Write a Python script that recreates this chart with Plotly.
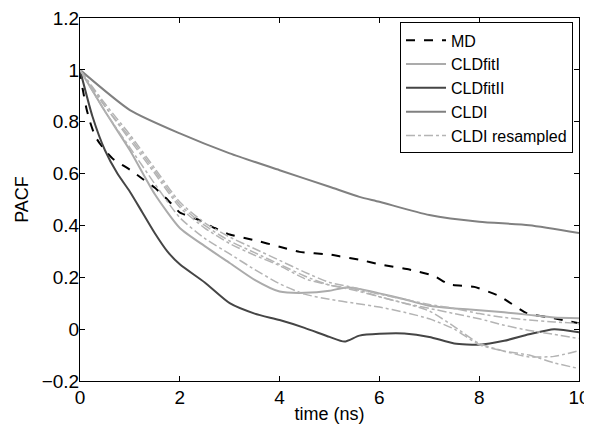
import plotly.graph_objects as go

# ---- data ----
t_md = [0, 0.05, 0.13, 0.2, 0.3, 0.4, 0.5, 0.67, 1.0, 1.25, 1.5, 1.75, 2.0, 2.4, 2.7, 3.0, 3.5, 4.0, 4.4, 5.0, 5.2, 5.6, 6.0, 6.6, 7.1, 7.4, 7.9, 8.4, 8.95, 9.5, 10.0]
v_md = [1.0, 0.93, 0.85, 0.80, 0.745, 0.715, 0.69, 0.655, 0.615, 0.58, 0.545, 0.50, 0.45, 0.42, 0.39, 0.365, 0.343, 0.318, 0.298, 0.288, 0.281, 0.268, 0.25, 0.23, 0.205, 0.172, 0.163, 0.128, 0.062, 0.042, 0.023]

t_fit1 = [0, 0.5, 1.0, 1.5, 2.0, 2.5, 3.0, 3.5, 4.0, 4.5, 5.0, 5.3, 5.6, 6.0, 6.5, 7.0, 7.5, 8.0, 8.5, 9.0, 9.5, 10.0]
v_fit1 = [1.0, 0.84, 0.69, 0.52, 0.39, 0.32, 0.255, 0.19, 0.145, 0.14, 0.148, 0.16, 0.155, 0.138, 0.115, 0.09, 0.08, 0.073, 0.065, 0.055, 0.045, 0.042]

t_fit2 = [0, 0.25, 0.5, 0.75, 1.0, 1.25, 1.5, 1.75, 2.0, 2.5, 3.0, 3.5, 4.0, 4.5, 5.0, 5.3, 5.6, 6.0, 6.5, 7.0, 7.5, 8.0, 8.5, 9.0, 9.5, 10.0]
v_fit2 = [1.0, 0.82, 0.69, 0.60, 0.53, 0.45, 0.37, 0.30, 0.25, 0.18, 0.10, 0.06, 0.035, 0.005, -0.03, -0.048, -0.025, -0.018, -0.017, -0.03, -0.055, -0.06, -0.045, -0.02, 0.0, -0.012]

t_cldi = [0, 1, 2, 3, 4, 5, 5.6, 6, 7, 8, 9, 10]
v_cldi = [1.0, 0.845, 0.755, 0.678, 0.613, 0.549, 0.51, 0.491, 0.44, 0.414, 0.401, 0.371]

t_rs = [0, 0.5, 1.0, 1.5, 2.0, 2.5, 3.0, 3.5, 4.0, 4.5, 5.0, 5.5, 6.0, 6.5, 7.0, 7.5, 8.0, 8.5, 9.0, 9.5, 10.0]
v_rs1 = [1.0, 0.87, 0.75, 0.62, 0.49, 0.41, 0.355, 0.31, 0.265, 0.22, 0.18, 0.16, 0.135, 0.115, 0.095, 0.08, 0.06, 0.045, 0.035, 0.028, 0.022]
v_rs2 = [1.0, 0.86, 0.74, 0.61, 0.48, 0.40, 0.34, 0.295, 0.25, 0.205, 0.17, 0.155, 0.125, 0.10, 0.08, 0.06, 0.04, 0.015, -0.005, -0.02, -0.036]
v_rs3 = [1.0, 0.86, 0.73, 0.60, 0.47, 0.39, 0.33, 0.285, 0.245, 0.195, 0.17, 0.15, 0.125, 0.10, 0.07, 0.01, -0.055, -0.085, -0.107, -0.105, -0.083]
v_rs4 = [1.0, 0.84, 0.70, 0.56, 0.43, 0.35, 0.29, 0.23, 0.175, 0.135, 0.115, 0.10, 0.085, 0.065, 0.04, 0.0, -0.06, -0.085, -0.10, -0.13, -0.152]

x_ticks = [0, 2, 4, 6, 8, 10]
y_ticks = [-0.2, 0, 0.2, 0.4, 0.6, 0.8, 1, 1.2]
y_ticklabels = ["\u22120.2", "0", "0.2", "0.4", "0.6", "0.8", "1", "1.2"]

FONT = "Liberation Sans, Arial, Helvetica, sans-serif"

fig = go.Figure()
fig.add_trace(go.Scatter(x=t_md, y=v_md, mode="lines", name="MD",
                         line=dict(color="black", width=2, dash="dash", shape="spline", smoothing=0.4)))
fig.add_trace(go.Scatter(x=t_fit1, y=v_fit1, mode="lines", name="CLDfitI",
                         line=dict(color="#ababab", width=2, shape="spline", smoothing=0.6)))
fig.add_trace(go.Scatter(x=t_fit2, y=v_fit2, mode="lines", name="CLDfitII",
                         line=dict(color="#454545", width=2, shape="spline", smoothing=0.6)))
fig.add_trace(go.Scatter(x=t_cldi, y=v_cldi, mode="lines", name="CLDI",
                         line=dict(color="#808080", width=2, shape="spline", smoothing=0.6)))
for i, v in enumerate([v_rs1, v_rs2, v_rs3, v_rs4]):
    fig.add_trace(go.Scatter(x=t_rs, y=v, mode="lines", name="CLDI resampled",
                             showlegend=(i == 0), legendgroup="rs",
                             line=dict(color="#b4b4b4", width=1.5, dash="dashdot",
                                       shape="spline", smoothing=0.6)))

axis_common = dict(showline=True, linecolor="black", linewidth=1, mirror="ticks",
                   ticks="inside", ticklen=5, tickcolor="black", showgrid=False,
                   zeroline=False, automargin=False, ticklabeloverflow="allow",
                   tickfont=dict(family=FONT, size=19, color="black"))

fig.update_xaxes(range=[0, 10], tickvals=x_ticks, ticktext=[str(v) for v in x_ticks],
                 ticklabelstandoff=-1,
                 title=dict(text="time (ns)", font=dict(family=FONT, size=18, color="black"), standoff=0),
                 **axis_common)
fig.update_yaxes(range=[-0.2, 1.2], tickvals=y_ticks, ticktext=y_ticklabels,
                 ticklabelstandoff=-4,
                 title=dict(text="PACF", font=dict(family=FONT, size=18, color="black"), standoff=8),
                 **axis_common)

# the page body adds an 8px offset, so the figure is 8px smaller and shifted margins
fig.update_layout(
    width=584, height=421,
    margin=dict(l=72, r=13, t=10, b=48, pad=0),
    paper_bgcolor="white", plot_bgcolor="white",
    font=dict(family=FONT, size=18, color="black"),
    legend=dict(x=0.988, y=0.988, xanchor="right", yanchor="top",
                bordercolor="black", borderwidth=1, bgcolor="white",
                font=dict(family=FONT, size=16, color="black"),
                tracegroupgap=0, itemwidth=40),
)

fig.write_html("out.html")
